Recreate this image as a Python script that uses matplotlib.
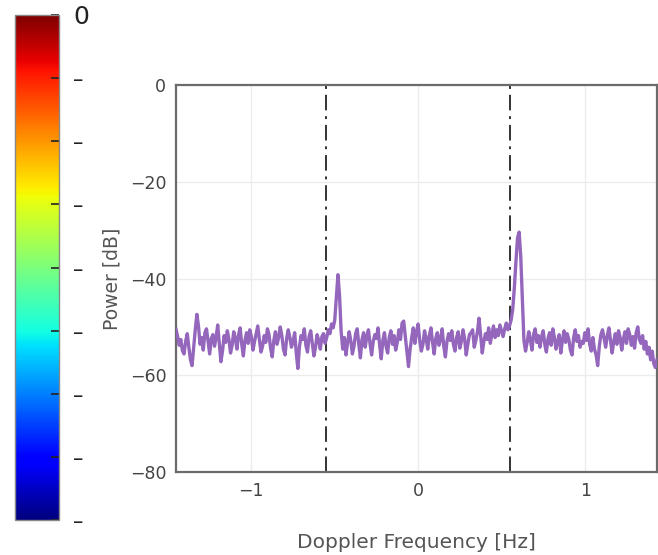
import numpy as np
import matplotlib.pyplot as plt
import matplotlib as mpl

# --- Data ---
F_MIN, F_MAX = -1.45, 1.43
freq = np.linspace(F_MIN, F_MAX, 301)  # frequency bins [Hz]

power_db = [
    -50.5, -52.0, -53.8, -52.6, -54.9, -55.6, -53.0, -51.4, -54.2, -56.8,
    -58.0, -54.2, -50.6, -47.4, -49.8, -53.6, -52.2, -54.8, -51.2, -50.4,
    -53.0, -55.6, -52.4, -51.6, -54.0, -52.2, -49.6, -53.4, -57.2, -55.0,
    -51.8, -53.2, -50.8, -52.6, -55.4, -53.8, -51.0, -52.4, -54.6, -51.6,
    -50.2, -53.6, -56.0, -52.8, -51.2, -53.4, -50.6, -52.0, -54.8, -53.0,
    -51.4, -49.8, -52.6, -55.2, -54.0, -51.8, -53.2, -50.4, -51.6, -54.4,
    -56.2, -52.8, -51.0, -53.6, -52.2, -50.0, -51.8, -54.6, -55.8, -52.4,
    -50.6, -52.2, -54.2, -53.0, -51.2, -55.4, -58.6, -54.0, -51.8, -52.6,
    -50.4, -53.8, -55.2, -52.0, -50.8, -53.4, -56.0, -54.2, -51.6, -52.8,
    -54.6, -52.0, -51.4, -53.4, -52.2, -50.6, -51.4, -49.4, -50.2, -48.6,
    -44.0, -39.2, -43.6, -51.0, -54.6, -52.2, -55.8, -53.2, -51.0, -52.8,
    -55.6, -54.0, -51.4, -50.4, -53.6, -56.4, -52.6, -51.2, -54.2, -52.0,
    -50.6, -53.4, -55.8, -53.0, -51.6, -52.4, -50.2, -53.8, -56.6, -52.8,
    -51.2, -54.0, -55.4, -52.2, -50.8, -53.6, -51.8, -54.8, -53.2, -50.6,
    -52.6, -49.2, -48.8, -52.0, -55.2, -58.2, -54.6, -52.2, -50.2, -53.4,
    -51.0, -49.4, -52.8, -55.0, -53.6, -50.8, -52.4, -54.6, -51.8, -50.2,
    -53.2, -55.6, -52.4, -51.2, -53.8, -52.6, -50.4, -54.0, -56.2, -53.0,
    -51.4, -52.8, -50.8, -53.6, -55.0, -52.2, -51.0, -54.4, -53.0, -50.6,
    -52.4, -55.8, -53.6, -51.6, -51.2, -50.6, -54.2, -52.8, -51.0, -48.2,
    -51.8, -55.4, -53.0, -51.4, -52.6, -50.2, -53.4, -51.6, -49.8, -52.2,
    -50.6, -51.8, -49.6, -50.8, -52.0, -50.4, -49.2, -50.6, -49.8, -48.6,
    -46.4, -42.0, -36.6, -31.6, -30.4, -35.4, -44.2, -52.8, -55.0, -53.2,
    -51.0, -52.6, -54.8, -51.6, -50.4, -53.2, -51.8, -54.2, -52.0, -50.8,
    -53.6, -55.2, -52.4, -51.2, -53.8, -50.4, -52.2, -54.6, -53.0, -51.6,
    -55.4, -52.8, -50.8, -53.2, -51.4, -52.6, -54.8, -55.8, -52.2, -50.6,
    -53.0, -51.8, -54.2, -53.0, -53.4, -51.2, -52.8, -50.4, -53.6, -55.0,
    -52.2, -54.6, -55.8, -58.0, -54.0, -51.6, -50.6, -52.4, -54.2, -51.8,
    -50.2, -52.8, -55.4, -53.0, -51.4, -53.6, -50.8, -52.2, -54.8, -52.6,
    -51.0, -53.4, -50.4, -51.6, -53.8, -52.0, -54.4, -51.2, -50.0, -52.6,
    -53.4, -51.8, -54.6, -53.0, -55.6, -54.2, -56.8, -55.0, -57.6, -58.4,
    -56.8,
]

marker_freqs = [-0.55, 0.55]
y_ticks = [0, -20, -40, -60, -80]
x_ticks = [-1, 0, 1]
cbar_ticks = [0, -10, -20, -30, -40, -50, -60, -70, -80]
cbar_labels = ["0", "–", "–", "–", "–", "–", "–", "–", "–"]

# --- Figure ---
fig = plt.figure(figsize=(6.58, 5.55), dpi=100)
ax = fig.add_axes([0.2675, 0.1495, 0.731, 0.6973])

for x in x_ticks:
    ax.axvline(x, color="#ececec", lw=1, zorder=0)
for y in y_ticks[1:-1]:
    ax.axhline(y, color="#ececec", lw=1, zorder=0)

ax.plot(freq, power_db, color="#9467bd", lw=2.4, zorder=3)

for f in marker_freqs:
    ax.axvline(f, color="#333333", lw=1.4, linestyle=(0, (8, 3, 1.5, 3)), zorder=2)

ax.set_xlim(F_MIN, F_MAX)
ax.set_ylim(-80, 0)
ax.set_xticks(x_ticks)
ax.set_yticks(y_ticks)
ax.set_xticklabels(["\u22121", "0", "1"])
ax.set_yticklabels(["0", "\u221220", "\u221240", "\u221260", "\u221280"])
ax.tick_params(length=0, labelsize=12.5, labelcolor="#444444", pad=7)

for s in ax.spines.values():
    s.set_color("#6b6b6b")
    s.set_linewidth(1.6)

ax.set_xlabel("Doppler Frequency [Hz]", fontsize=14.5, color="#555555", labelpad=24)
ax.set_ylabel("Power [dB]", fontsize=13.5, color="#555555", labelpad=6)

# --- Colorbar ---
cax = fig.add_axes([0.0228, 0.063, 0.0669, 0.91])
sm = mpl.cm.ScalarMappable(norm=mpl.colors.Normalize(-80, 0), cmap="jet")
cb = fig.colorbar(sm, cax=cax, ticks=cbar_ticks)
cb.set_ticklabels(cbar_labels)
cb.outline.set_edgecolor("#888888")
cb.outline.set_linewidth(1)
cax.tick_params(direction="in", length=6, width=1.2, color="#222222",
                labelsize=15, pad=10)
for lbl in cax.get_yticklabels():
    lbl.set_color("#222222")
    if lbl.get_text() == "0":
        lbl.set_fontsize(18)

fig.savefig("out.png", dpi=100)
